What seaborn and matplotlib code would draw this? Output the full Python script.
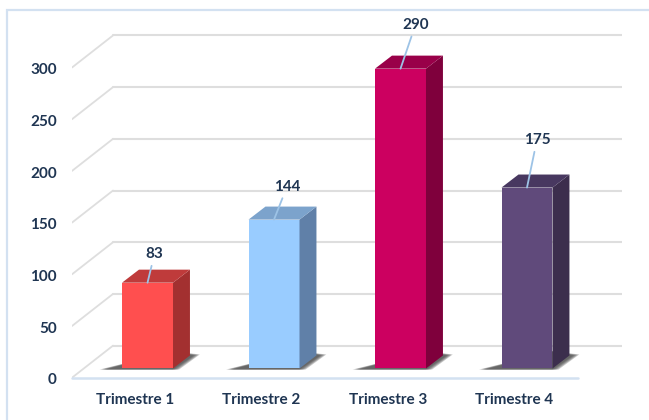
import matplotlib
matplotlib.use("Agg")
import matplotlib.pyplot as plt
from matplotlib.patches import Polygon, Rectangle
import seaborn as sns

trimestres = ["Trimestre 1", "Trimestre 2", "Trimestre 3", "Trimestre 4"]
valeurs = [83, 144, 290, 175]
graduations = [0, 50, 100, 150, 200, 250, 300]

couleurs_face = ["#FF4F4F", "#99CCFF", "#CC0060", "#604A7B"]
couleurs_cote = ["#A33030", "#6080A8", "#7F003C", "#3C2E4D"]
couleurs_haut = ["#BF3B3B", "#7CA3CC", "#990049", "#483860"]
decalage_labels = [(7, 29), (13, 33), (15, 44), (10, 48)]

bleu_nuit = "#1F3552"
gris_grille = "#DEDEDE"
bleu_clair = "#D3E1F1"

# profondeur du faux 3D, en unites de donnees
drop_avant = 8.9
decal_ticks = 1.2  # les etiquettes y sont un peu sous les lignes
prof_x, prof_y = 0.324, 31.0
barre_x, barre_y = 0.134, 12.6
largeur = 0.403

sns.set_style("white")
plt.rcParams["font.family"] = ["Lato", "DejaVu Sans"]

fig = plt.figure(figsize=(6.49, 4.2), dpi=100)
bas = 377.7 + decal_ticks * 1.034
ax = fig.add_axes([72 / 649, (420 - bas) / 420, 550 / 649, bas / 420])

sns.barplot(x=trimestres, y=valeurs, hue=trimestres, palette=couleurs_face,
            width=largeur, saturation=1, legend=False, ax=ax, zorder=3,
            edgecolor="none", linewidth=0)
ax.set_xlim(-0.597, 3.751)
sns.despine(ax=ax, left=True, bottom=True, top=True, right=True)

x0, x1 = ax.get_xlim()

# grille : mur du fond + diagonales
for g in graduations:
    y_av = g - drop_avant
    y_ar = y_av + prof_y
    ax.plot([x0 + prof_x, x1], [y_ar, y_ar], color=gris_grille, lw=1.5, zorder=1)
    ax.plot([x0, x0 + prof_x], [y_av, y_ar], color=gris_grille, lw=1.3, zorder=1)
ax.plot([x0, 3.4], [-drop_avant, -drop_avant], color=bleu_clair, lw=1.8, zorder=2,
        clip_on=False)

# ombre, cote et dessus de chaque barre
for i, barre in enumerate(list(ax.patches)):
    g = barre.get_x()
    d = g + barre.get_width()
    v = barre.get_height()
    for k in range(5):
        e = (4 - k) * 0.012
        ax.add_patch(Polygon([(g - 0.13 - e, -1), (d + e, -1),
                              (d + barre_x + 0.03 + e, barre_y + e * 20), (d, barre_y + 4)],
                             closed=True, fc="#444444", ec="none", alpha=0.28, zorder=2))
    ax.add_patch(Polygon([(d, 0), (d + barre_x, barre_y), (d + barre_x, v + barre_y), (d, v)],
                         closed=True, fc=couleurs_cote[i], ec="none", zorder=3))
    ax.add_patch(Polygon([(g, v), (g + barre_x, v + barre_y), (d + barre_x, v + barre_y), (d, v)],
                         closed=True, fc=couleurs_haut[i], ec="none", zorder=3))
    ax.annotate(str(valeurs[i]), xy=(i, v), xytext=decalage_labels[i], textcoords="offset pixels",
                ha="center", va="center", fontsize=11, fontweight="bold", color=bleu_nuit,
                arrowprops=dict(arrowstyle="-", color="#9DC3E6", lw=1.3, shrinkA=9, shrinkB=0,
                                patchA=None),
                zorder=5, annotation_clip=False)

# les etiquettes de categorie sont sur le plan avant, donc decalees vers la gauche
ax.set_xticks([i - 0.1 for i in range(len(trimestres))])
ax.set_xticklabels(trimestres, fontsize=11, fontweight="bold", color=bleu_nuit)
ax.set_yticks([g - drop_avant - decal_ticks for g in graduations])
ax.set_yticklabels([str(g) for g in graduations], fontsize=11, fontweight="bold", color=bleu_nuit)
ax.tick_params(axis="x", length=0, pad=10)
ax.tick_params(axis="y", length=0, pad=11)
ax.set_ylim(-drop_avant - decal_ticks, 356.4)
ax.patch.set_alpha(0)

# cadre du bord de l'image
fig.add_artist(Rectangle((7 / 649, -0.1), 1.1, 1 + 0.1 - 10 / 420, transform=fig.transFigure,
                         fc="none", ec=bleu_clair, lw=1.6))

fig.savefig("out.png", dpi=100)
